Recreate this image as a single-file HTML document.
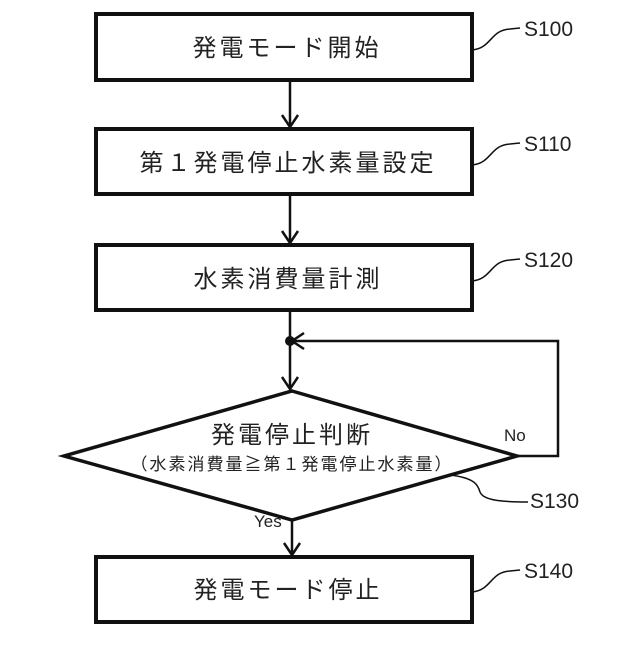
<!DOCTYPE html>
<html><head><meta charset="utf-8"><style>
body{margin:0;background:#fff;}
svg text{font-family:"Liberation Sans","Noto Sans CJK JP",sans-serif;fill:#222;}
</style></head><body>
<svg width="640" height="640" viewBox="0 0 640 640" xmlns="http://www.w3.org/2000/svg">
<g fill="none" stroke="#111" stroke-width="4">
<rect x="96" y="14" width="376" height="66"/>
<rect x="96" y="129" width="376" height="65"/>
<rect x="96" y="245" width="376" height="65"/>
<rect x="96" y="557" width="376" height="65"/>
<polygon points="292,391 517,456 292,520 64,456" stroke-width="3.5"/>
</g>
<g fill="none" stroke="#111" stroke-width="2.5">
<line x1="290" y1="80" x2="290" y2="127"/>
<polyline points="282,115 290,127 298,115"/>
<line x1="290" y1="194" x2="290" y2="243"/>
<polyline points="282,231 290,243 298,231"/>
<line x1="290" y1="310" x2="290" y2="389"/>
<polyline points="282,377 290,389 298,377"/>
<line x1="292" y1="520" x2="292" y2="555"/>
<polyline points="284,543 292,555 300,543"/>
<polyline points="517,456 558,456 558,341 292,341"/>
<polyline points="304,333 292,341 304,349"/>
</g>
<circle cx="290" cy="341" r="5" fill="#111"/>
<g fill="none" stroke="#111" stroke-width="1.5">
<path d="M472,50 C492,48 490,30 510,29 L520,28"/>
<path d="M472,165 C492,163 490,145 510,144 L520,143"/>
<path d="M472,281 C492,279 490,261 510,260 L520,259"/>
<path d="M472,592 C492,590 490,572 510,571 L520,570"/>
<path d="M450,475 C475,478 478,485 480,492 C483,500 500,502 528,502"/>
</g>
<g font-size="24" letter-spacing="3">
<text x="287" y="56" text-anchor="middle">発電モード開始</text>
<text x="288" y="171" text-anchor="middle">第１発電停止水素量設定</text>
<text x="288" y="287" text-anchor="middle">水素消費量計測</text>
<text x="288" y="598" text-anchor="middle">発電モード停止</text>
<text x="292" y="443" text-anchor="middle">発電停止判断</text>
</g>
<text x="292" y="470" text-anchor="middle" font-size="17" letter-spacing="2">（水素消費量≧第１発電停止水素量）</text>
<g font-size="21">
<text x="524" y="36">S100</text>
<text x="524" y="151">S110</text>
<text x="524" y="267">S120</text>
<text x="530" y="508">S130</text>
<text x="524" y="578">S140</text>
</g>
<text x="504" y="441" font-size="17">No</text>
<text x="254" y="527" font-size="17">Yes</text>
</svg>
</body></html>
